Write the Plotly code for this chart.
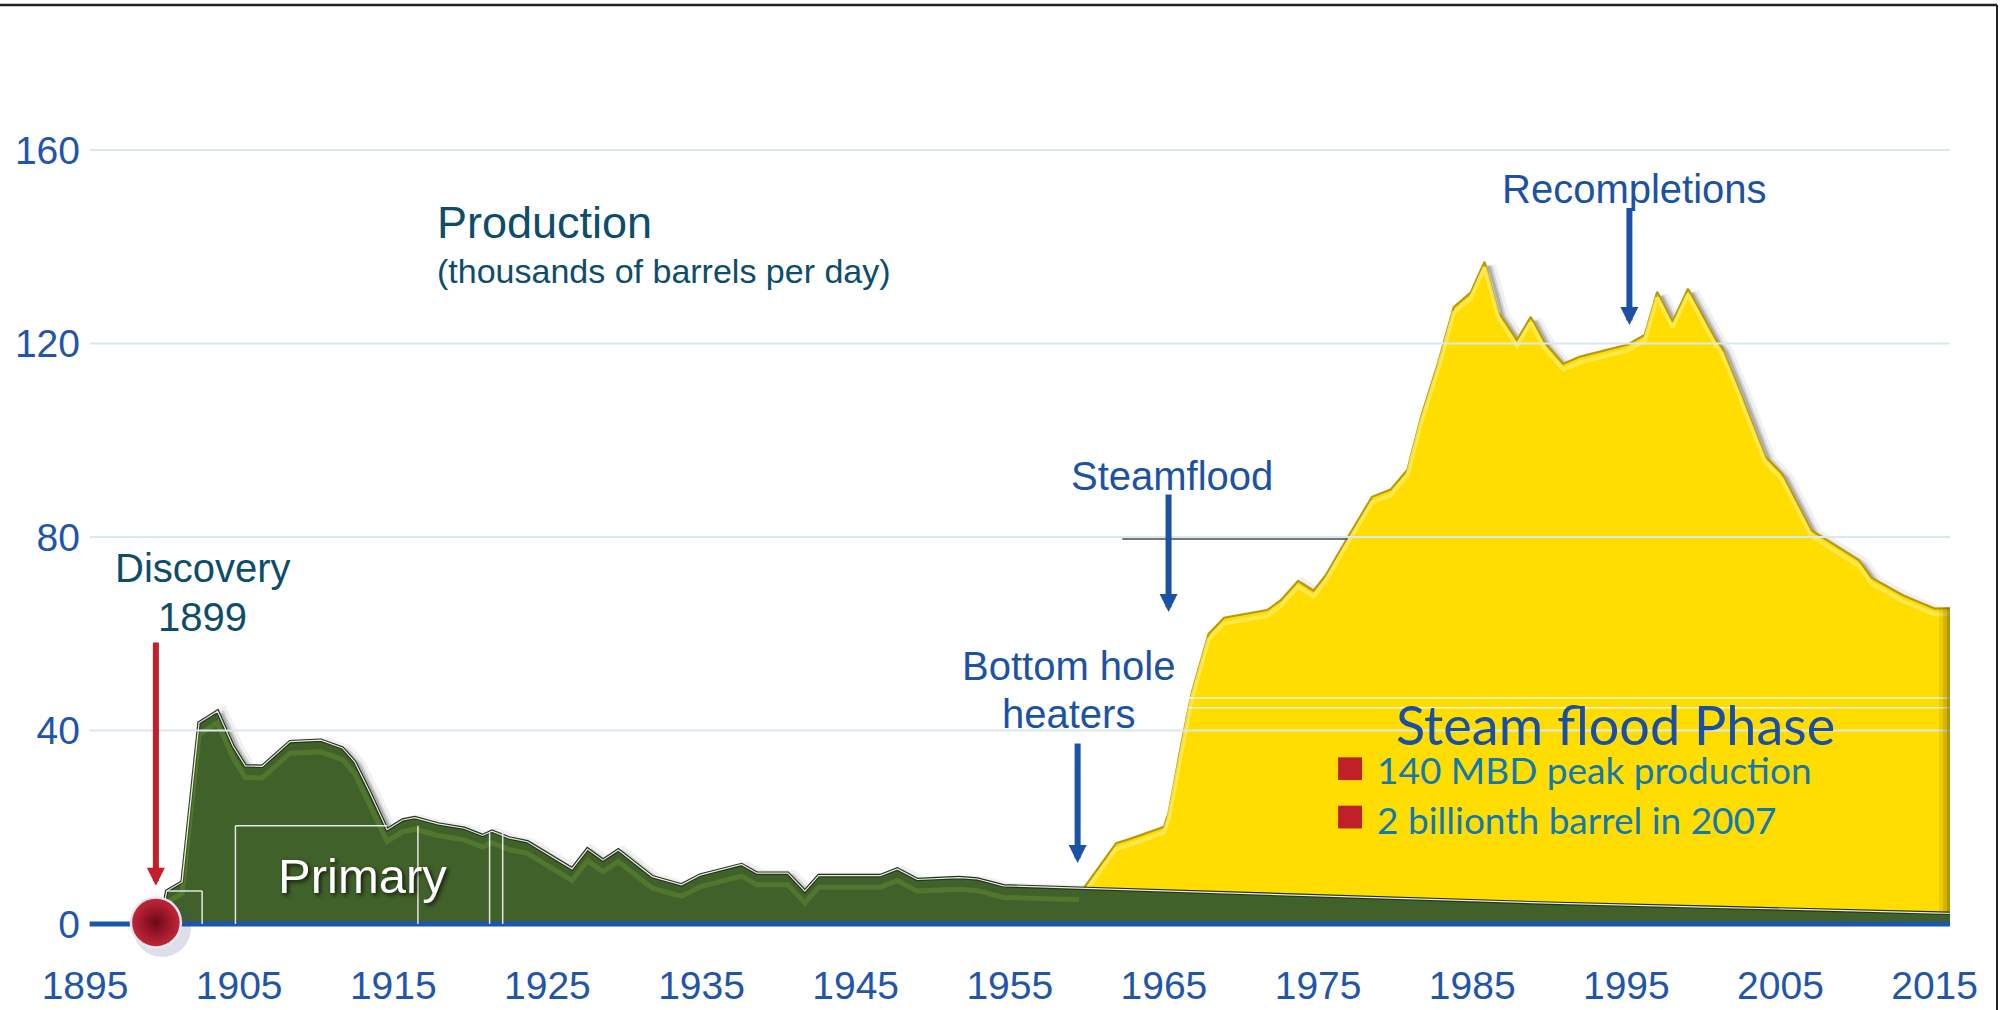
import plotly.graph_objects as go

# Primary production (green area), thousands of barrels per day
primary_years = [1899.9, 1900.3, 1901.3, 1902.4, 1903.0, 1903.6, 1904.6, 1905.4, 1906.5, 1908.3,
                 1910.3, 1911.7, 1912.5, 1913.5, 1914.6, 1915.6, 1916.4, 1917.9, 1919.6, 1920.8,
                 1921.4, 1922.5, 1923.7, 1926.6, 1927.6, 1928.6, 1929.6, 1931.8, 1933.7, 1934.9,
                 1937.6, 1938.6, 1940.6, 1941.7, 1942.6, 1946.6, 1947.7, 1949.0, 1951.7, 1952.9,
                 1954.6, 1959.5, 1960.0, 1970.0, 1980.0, 1990.0, 2000.0, 2010.0, 2016.0]
primary_vals = [0, 6.8, 8.7, 41.6, 42.8, 44.0, 36.8, 32.7, 32.6, 37.7,
                38.0, 36.4, 33.5, 27.1, 19.5, 21.5, 22.0, 20.7, 19.8, 18.3,
                19.2, 17.8, 17.0, 11.4, 15.5, 13.2, 15.3, 9.8, 8.1, 10.1,
                12.3, 10.5, 10.5, 6.8, 10.0, 10.0, 11.4, 9.2, 9.6, 9.3,
                7.9, 7.4, 7.3, 6.3, 5.2, 4.3, 3.5, 2.7, 2.2]

# Total production with steamflood (top of yellow area)
total_years = [1959.8, 1961.9, 1962.8, 1965.0, 1965.3, 1966.1, 1966.8, 1967.9, 1968.9, 1970.5,
               1971.7, 1972.6, 1973.7, 1974.7, 1975.5, 1976.9, 1977.6, 1978.5, 1979.7, 1980.8,
               1981.7, 1982.8, 1983.8, 1984.9, 1985.8, 1986.7, 1987.9, 1988.8, 1989.7, 1990.9,
               1992.0, 1994.3, 1995.1, 1996.2, 1997.0, 1998.0, 1999.0, 2000.8, 2001.2, 2002.2,
               2004.0, 2005.1, 2007.0, 2008.1, 2010.1, 2010.9, 2012.9, 2015.0, 2016.0]
total_vals = [7.4, 16.7, 17.6, 20.1, 22.9, 36.7, 47.7, 60.0, 63.3, 64.2,
              64.9, 67.0, 70.9, 68.9, 72.1, 79.8, 83.4, 88.3, 89.8, 93.9,
              105.0, 116.0, 127.5, 130.5, 136.9, 126.5, 120.7, 125.5, 120.2, 115.8,
              117.3, 119.1, 119.8, 121.8, 130.7, 124.5, 131.3, 120.8, 119.2, 111.4,
              96.7, 93.1, 81.4, 79.2, 75.2, 71.6, 68.0, 65.2, 65.3]

x_ticks = [1895, 1905, 1915, 1925, 1935, 1945, 1955, 1965, 1975, 1985, 1995, 2005, 2015]
y_ticks = [0, 40, 80, 120, 160]

discovery_year = 1899.6
bullets = ["140 MBD peak production", "2 billionth barrel in 2007"]

# page geometry (pixels)
W, H = 2007, 1010
ML, MR, MT, MB = 85, 57, 40, 57
X_RANGE = [1895, 2016]
Y_RANGE = [-5.995, 182.74]
PW, PH = W - ML - MR, H - MT - MB

BLUE = "#1c52a6"
TICK_BLUE = "#1f55ac"
TEAL = "#0d4d6a"
GREEN = "#41612a"
YELLOW = "#ffdd00"
RED = "#c41e2a"
ARIAL = "Liberation Sans, Arial, sans-serif"
CALIBRI = "Lato, Carlito, Calibri, sans-serif"


def px_x(p):
    return (p - ML) / PW


def px_y(p):
    return (H - MB - p) / PH


fig = go.Figure()

# soft drop shadows behind both areas
for w, a in [(14, 0.07), (7, 0.14), (3, 0.22)]:
    fig.add_trace(go.Scatter(
        x=[t + 0.3 for t in total_years], y=[v - 1.0 for v in total_vals],
        mode="lines", line=dict(color=f"rgba(40,40,40,{a})", width=w),
        hoverinfo="skip", showlegend=False))
    fig.add_trace(go.Scatter(
        x=[t + 0.3 for t in primary_years[:42]], y=[v - 0.8 for v in primary_vals[:42]],
        mode="lines", line=dict(color=f"rgba(40,40,40,{a})", width=w),
        hoverinfo="skip", showlegend=False))

# steamflood area (total production)
fig.add_trace(go.Scatter(
    x=total_years, y=total_vals, mode="lines", fill="tozeroy",
    fillcolor=YELLOW, line=dict(color="#b89a10", width=2.2),
    hoverinfo="skip", showlegend=False))
fig.add_trace(go.Scatter(
    x=total_years, y=[v - 1.2 for v in total_vals], mode="lines",
    line=dict(color="rgba(255,236,90,0.8)", width=4),
    hoverinfo="skip", showlegend=False))

# primary area
fig.add_trace(go.Scatter(
    x=primary_years, y=primary_vals, mode="lines", fill="tozeroy",
    fillcolor=GREEN, line=dict(color="#24341a", width=3.5),
    hoverinfo="skip", showlegend=False))
fig.add_trace(go.Scatter(
    x=primary_years[1:42], y=[v - 2.4 for v in primary_vals[1:42]], mode="lines",
    line=dict(color="rgba(112,160,58,0.35)", width=5),
    hoverinfo="skip", showlegend=False))
fig.add_trace(go.Scatter(
    x=primary_years, y=primary_vals, mode="lines",
    line=dict(color="rgba(255,255,255,0.9)", width=1.2),
    hoverinfo="skip", showlegend=False))

# baseline
fig.add_trace(go.Scatter(
    x=[1895.3, X_RANGE[1]], y=[0, 0], mode="lines",
    line=dict(color="#1a55ae", width=5), hoverinfo="skip", showlegend=False))

# discovery marker
fig.add_trace(go.Scatter(
    x=[discovery_year + 0.4], y=[-0.8], mode="markers",
    marker=dict(size=58, color="rgba(60,80,120,0.18)", line=dict(width=0)),
    hoverinfo="skip", showlegend=False, cliponaxis=False))
fig.add_trace(go.Scatter(
    x=[discovery_year], y=[0.3], mode="markers",
    marker=dict(size=50, color="#c4283c",
                gradient=dict(type="radial", color="#6e0816"),
                line=dict(color="rgba(235,235,240,0.95)", width=2.5)),
    hoverinfo="skip", showlegend=False, cliponaxis=False))

shapes = []
# gridlines drawn over the areas
for v in y_ticks[1:]:
    shapes.append(dict(type="line", xref="x", yref="y", x0=1895.3, x1=X_RANGE[1], y0=v, y1=v,
                       line=dict(color="#dae8f0", width=2), layer="above"))
# dark segment of the 80 line left of the steam area
shapes.append(dict(type="line", xref="x", yref="y", x0=1962.3, x1=1976.9, y0=79.6, y1=79.6,
                   line=dict(color="#4a4a4a", width=1.5), layer="above"))
# thin white rules across the steam area
for v in (46.7, 44.7):
    shapes.append(dict(type="line", xref="x", yref="y", x0=1966.6, x1=X_RANGE[1], y0=v, y1=v,
                       line=dict(color="rgba(255,255,255,0.9)", width=1.5), layer="above"))
# white frame lines inside the primary area
white = dict(color="rgba(255,255,255,0.85)", width=1.5)
frame_lines = [
    (1900.33, 6.8, 1902.6, 6.8), (1902.6, 0, 1902.6, 6.8),
    (1904.76, 0, 1904.76, 20.3), (1904.76, 20.3, 1914.6, 20.3),
    (1916.6, 0, 1916.6, 20.3), (1921.25, 0, 1921.25, 18.8), (1922.1, 0, 1922.1, 18.8),
]
for x0, y0, x1, y1 in frame_lines:
    shapes.append(dict(type="line", xref="x", yref="y", x0=x0, y0=y0, x1=x1, y1=y1,
                       line=white, layer="above"))
# shaded right edge of the steam area
for x0, x1, a in [(2015.3, 2015.55, 0.12), (2015.55, 2015.8, 0.28), (2015.8, 2016.0, 0.5)]:
    shapes.append(dict(type="rect", xref="x", yref="y", x0=x0, x1=x1,
                       y0=primary_vals[-1], y1=total_vals[-1],
                       fillcolor=f"rgba(95,80,20,{a})", line=dict(width=0), layer="above"))
# bullet squares
for yb in (32.1, 22.1):
    shapes.append(dict(type="rect", xref="x", yref="y", x0=1976.3, x1=1977.85,
                       y0=yb - 2.35, y1=yb + 2.35, fillcolor="#c0202a",
                       line=dict(width=0), layer="above"))
# slide frame
shapes.append(dict(type="line", xref="paper", yref="paper", x0=px_x(0), x1=px_x(1997),
                   y0=px_y(5), y1=px_y(5), line=dict(color="#222222", width=2.5)))
shapes.append(dict(type="line", xref="paper", yref="paper", x0=px_x(1997), x1=px_x(1997),
                   y0=px_y(5), y1=px_y(H), line=dict(color="#222222", width=2)))

annotations = []


def label(text, x, y, size, color, family=ARIAL, xanchor="center", **kw):
    annotations.append(dict(text=text, x=x, y=y, xref="x", yref="y", showarrow=False,
                            xanchor=xanchor, yanchor="middle",
                            font=dict(size=size, color=color, family=family, **kw)))


def arrow(x, y_tail, y_tip, color):
    annotations.append(dict(text="", x=x, y=y_tip, ax=x, ay=y_tail, xref="x", yref="y",
                            axref="x", ayref="y", showarrow=True, arrowhead=2,
                            arrowsize=0.6, arrowwidth=6, arrowcolor=color))


label("Production", 1917.7, 145.1, 45, TEAL, xanchor="left")
label("(thousands of barrels per day)", 1917.7, 135.0, 34, TEAL, xanchor="left")
label("Discovery", 1902.65, 73.6, 40, TEAL)
label("1899", 1902.65, 63.4, 40, TEAL)
label("Steamflood", 1965.5, 92.7, 40, BLUE)
label("Bottom hole", 1958.8, 53.3, 40, BLUE)
label("heaters", 1958.8, 43.5, 40, BLUE)
label("Recompletions", 1995.5, 152.0, 40, BLUE)
label("Primary", 1912.98, 10.0, 49, "white", shadow="2px 2px 4px rgba(0,0,0,0.75)")
label("Steam flood Phase", 1994.3, 41.2, 54, "#1a4fa6", family=CALIBRI)
label(bullets[0], 1978.72, 32.0, 37, "#1279b0", family=CALIBRI, xanchor="left")
label(bullets[1], 1978.72, 21.6, 37, "#1279b0", family=CALIBRI, xanchor="left")

arrow(discovery_year, 58.5, 7.9, RED)
arrow(1965.3, 89.1, 64.5, BLUE)
arrow(1959.4, 37.6, 12.6, BLUE)
arrow(1995.2, 148.3, 123.8, BLUE)

fig.update_layout(
    width=W, height=H,
    margin=dict(l=ML, r=MR, t=MT, b=MB, pad=0),
    paper_bgcolor="white", plot_bgcolor="white",
    shapes=shapes, annotations=annotations,
    xaxis=dict(range=X_RANGE, tickvals=x_ticks, ticktext=[str(t) for t in x_ticks],
               showgrid=False, zeroline=False, showline=False, automargin=False,
               ticks="", ticklabelstandoff=6,
               tickfont=dict(size=39, color=TICK_BLUE, family=ARIAL)),
    yaxis=dict(range=Y_RANGE, tickvals=y_ticks, showgrid=False, zeroline=False,
               showline=False, automargin=False, ticks="", ticklabelstandoff=4,
               tickfont=dict(size=39, color=TICK_BLUE, family=ARIAL)),
    showlegend=False,
)

fig.write_html("out.html")
